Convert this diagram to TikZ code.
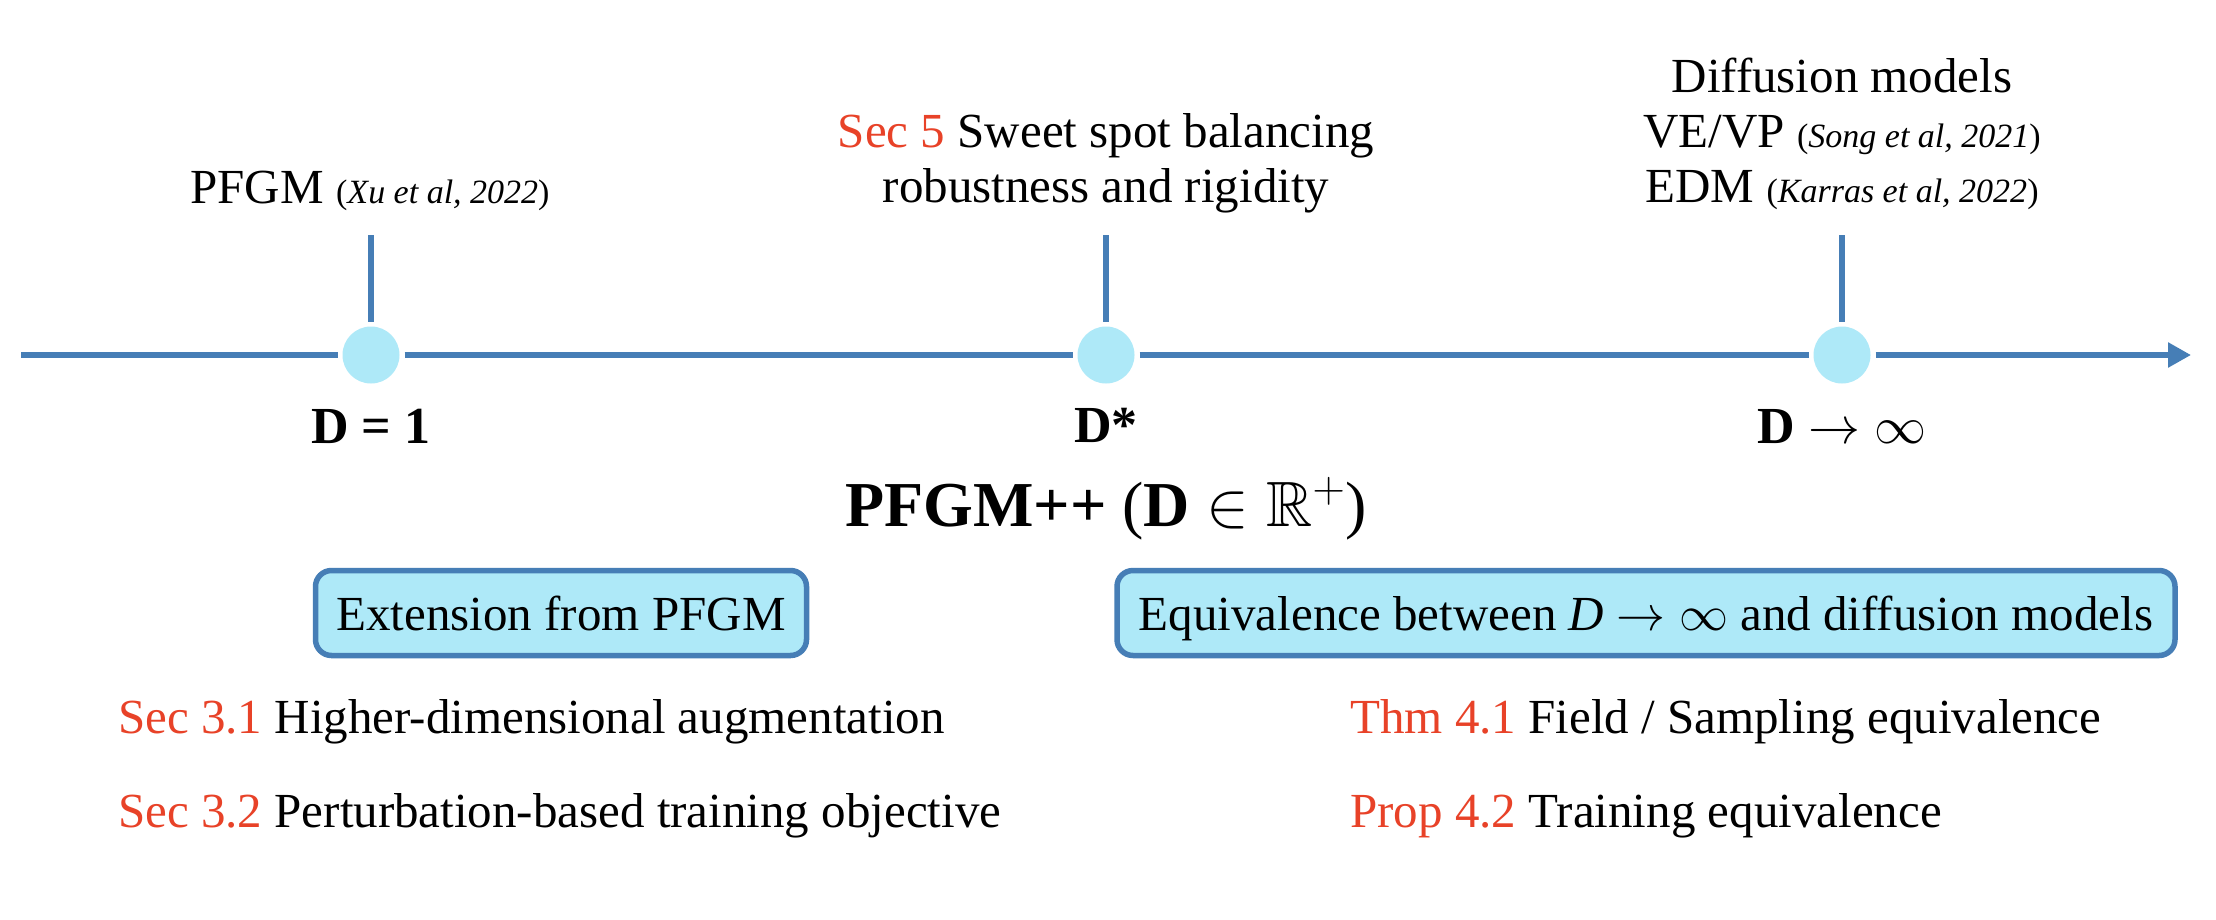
\RequirePackage{fix-cm}
\documentclass[tikz,border=0pt]{standalone}
\usepackage{amssymb}
\usepackage{fontspec}
\setmainfont{Liberation Serif}
\usetikzlibrary{arrows.meta}
\definecolor{axisblue}{RGB}{70,126,182}
\definecolor{dotfill}{RGB}{174,233,248}
\definecolor{secred}{RGB}{232,66,40}
\newcommand\bodyf{\fontsize{49}{55}\selectfont}
\newcommand\ctnf{\fontsize{34}{40}\selectfont}
\newcommand\dlabf{\fontsize{52}{60}\selectfont\bfseries}
\begin{document}
\begin{tikzpicture}[x=1pt,y=-1pt,
  axisline/.style={draw=axisblue,line width=5.5pt},
  tdot/.style={circle,fill=dotfill,minimum size=57pt,inner sep=0pt,outer sep=5pt},
  lbl/.style={inner sep=0pt,anchor=base,font=\bodyf},
  dlab/.style={inner sep=0pt,anchor=base,font=\dlabf},
  topic/.style={draw=axisblue,line width=5.5pt,fill=dotfill,rounded corners=16pt,minimum height=85pt,inner sep=0pt,font=\bodyf,text depth=0pt},
  listitem/.style={inner sep=0pt,anchor=base west,font=\bodyf}
]
\fill[white] (0,0) rectangle (2216,919);
\useasboundingbox (0,0) rectangle (2216,919);

% axis
\coordinate (a0) at (21,355);
\coordinate (a1) at (2191,355);
\node[tdot] (c1) at (371,355) {};
\node[tdot] (c2) at (1106,355) {};
\node[tdot] (c3) at (1842,355) {};
\draw[axisline] (a0) -- (c1);
\draw[axisline] (c1) -- (c2);
\draw[axisline] (c2) -- (c3);
\draw[axisline,-{Triangle[length=23pt,width=24pt]}] (c3) -- (a1);

% ticks
\coordinate (t1) at (371,235);
\coordinate (t2) at (1106,235);
\coordinate (t3) at (1842,235);
\draw[axisline] (t1) -- (c1);
\draw[axisline] (t2) -- (c2);
\draw[axisline] (t3) -- (c3);

% top labels
\node[lbl] (pfgm) at (370,203) {PFGM {\ctnf(\textit{Xu et al, 2022})}};
\node[lbl] (s5a) at (1106,147) {\textcolor{secred}{Sec 5} Sweet spot balancing};
\node[lbl] (s5b) at (1106,202) {robustness and rigidity};
\node[lbl] (dm) at (1842,92) {Diffusion models};
\node[lbl] (vevp) at (1842,147) {VE/VP {\ctnf(\textit{Song et al, 2021})}};
\node[lbl] (edm) at (1842,202) {EDM {\ctnf(\textit{Karras et al, 2022})}};

% D labels
\node[dlab] (d1) at (371,443) {D = 1};
\node[dlab] (ds) at (1106,442) {D*};
\node[dlab] (dinf) at (1842,443) {D $\rightarrow\infty$};

% title
\node[lbl,font=\fontsize{64}{74}\selectfont] (pp) at (1106,526) {\textbf{PFGM++} (\textbf{D} $\in\mathbb{R}^+$)};

% boxes
\node[topic,minimum width=491pt] (b1) at (561,613) {Extension from PFGM};
\node[topic,minimum width=1058pt] (b2) at (1646,613) {Equivalence between \textit{D} $\rightarrow\infty$ and diffusion models};

% lists
\node[listitem] (l1) at (118,733) {\textcolor{secred}{Sec 3.1} Higher-dimensional augmentation};
\node[listitem] (l2) at (118,827) {\textcolor{secred}{Sec 3.2} Perturbation-based training objective};
\node[listitem] (r1) at (1350,733) {\textcolor{secred}{Thm 4.1} Field / Sampling equivalence};
\node[listitem] (r2) at (1350,827) {\textcolor{secred}{Prop 4.2} Training equivalence};
\end{tikzpicture}
\end{document}
